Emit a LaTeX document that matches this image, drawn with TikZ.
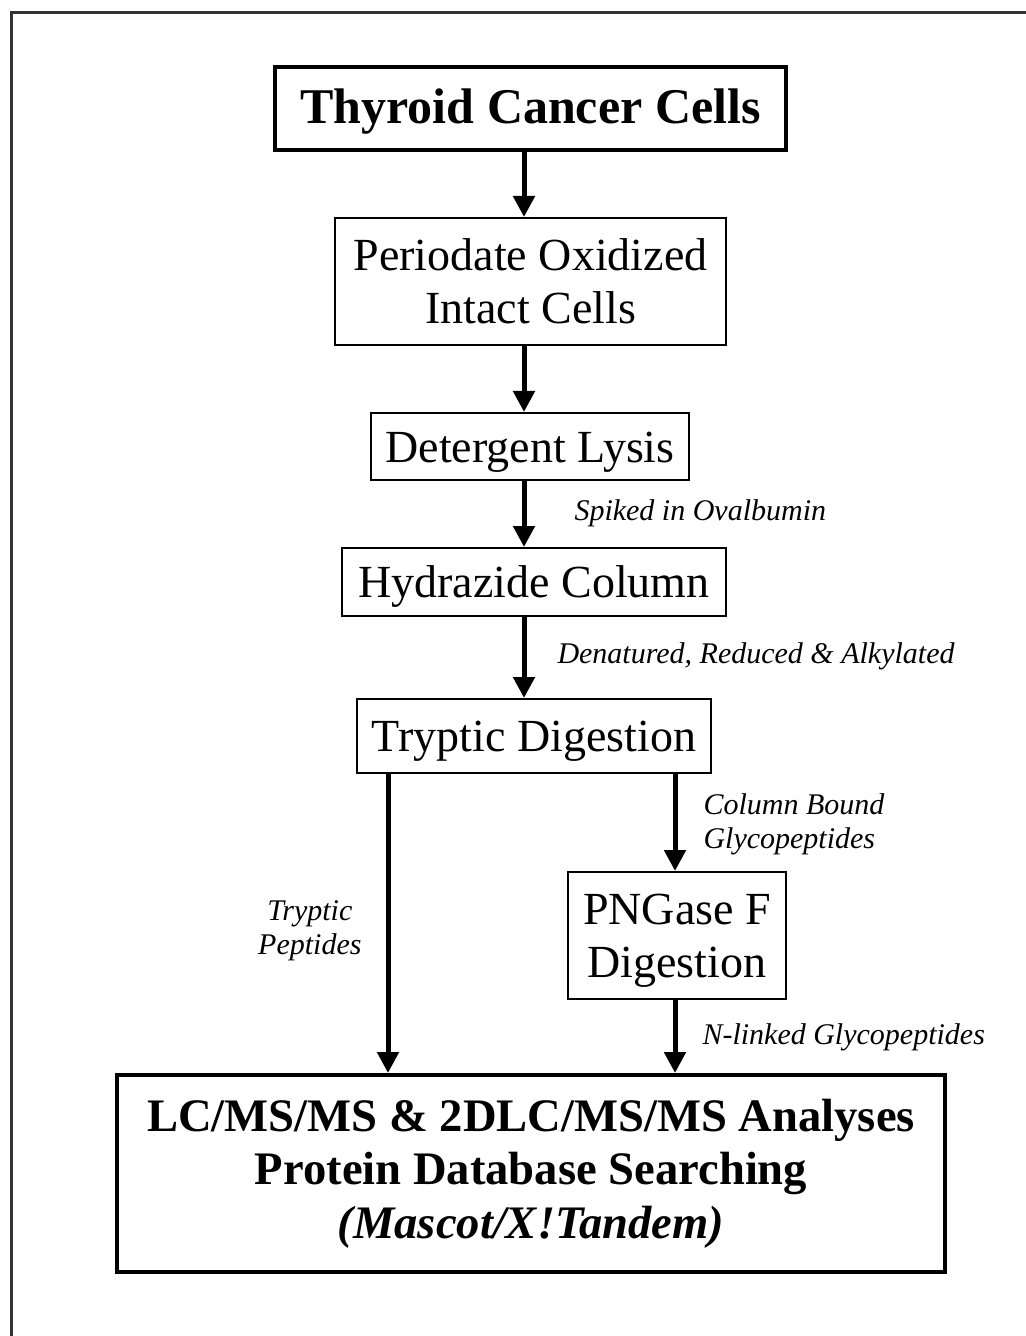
\documentclass[tikz,border=0pt]{standalone}
\usepackage{fontspec}
\setmainfont{Liberation Serif}
\usetikzlibrary{arrows.meta,positioning}
\tikzstyle{stage} = [rectangle,
                    align = center,
                    inner sep=0pt,
                    draw=black,
                    line width=1pt,
                    font=\fontsize{23}{26.5}\selectfont]
\tikzstyle{oneline} = [text height=20pt, text depth=4.5pt]
\tikzstyle{bigstage} = [stage, line width=2pt]
\tikzstyle{note} = [inner sep=0pt,
                    align = center,
                    font=\fontsize{15}{17}\selectfont\itshape]
\tikzstyle{flow} = [-{Triangle[width=10.5pt,length=10.5pt]},
                    line width=2.5pt]

\begin{document}
\begin{tikzpicture}[x=0.5pt, y=-0.5pt]
    \useasboundingbox (0,0) rectangle (1026,1336);
    % frame
    \draw[black!80, line width=1.5pt] (1026,13) -- (11,13) -- (11,1336);
    \coordinate (c) at (524,0);
    \coordinate (l) at (388,0);
    \coordinate (r) at (675,0);
    \node (0) at (530.5,108.5) [bigstage, oneline, minimum width=255.5pt, minimum height=41.5pt,
        font=\fontsize{25}{29}\selectfont\bfseries] {Thyroid Cancer Cells};
    \node (1) at (530.5,281.5) [stage, minimum width=195.5pt, minimum height=63.5pt] {Periodate Oxidized\\Intact Cells};
    \node (2) at (530,446.5) [stage, oneline, minimum width=159pt, minimum height=33.5pt] {Detergent Lysis};
    \node (3) at (534,582) [stage, oneline, minimum width=192pt, minimum height=34pt] {Hydrazide Column};
    \node (4) at (534,736) [stage, oneline, minimum width=177pt, minimum height=37pt] {Tryptic Digestion};
    \node (5) at (677,935.5) [stage, minimum width=109pt, minimum height=63.5pt] {\rule{0pt}{20pt}PNGase F\\Digestion};
    \node (6) at (531,1173.5) [bigstage, minimum width=414pt, minimum height=98.5pt,
        font=\fontsize{23.3}{26.8}\selectfont\bfseries] {LC/MS/MS \& 2DLC/MS/MS Analyses\\Protein Database Searching\\\textit{(Mascot/X!Tandem)}};
    \path[flow]
      (0.south -| c) edge (1.north -| c)
      (1.south -| c) edge (2.north -| c)
      (2.south -| c) edge node (7) [note, right, xshift=24pt, yshift=0.5pt] {Spiked in Ovalbumin} (3.north -| c)
      (3.south -| c) edge node (8) [note, right, xshift=15.5pt, yshift=0.5pt] {Denatured, Reduced \& Alkylated} (4.north -| c)
      (4.south -| r) edge node (9) [note, right, align=left, xshift=13pt, yshift=-1pt] {Column Bound\\Glycopeptides} (5.north -| r)
      (4.south -| l) edge node (10) [note, left, xshift=-12pt, yshift=-3.5pt] {Tryptic\\Peptides} (6.north -| l)
      (5.south -| r) edge node (11) [note, right, xshift=12.5pt, yshift=-0.5pt] {N-linked Glycopeptides} (6.north -| r);
  \end{tikzpicture}
\end{document}
